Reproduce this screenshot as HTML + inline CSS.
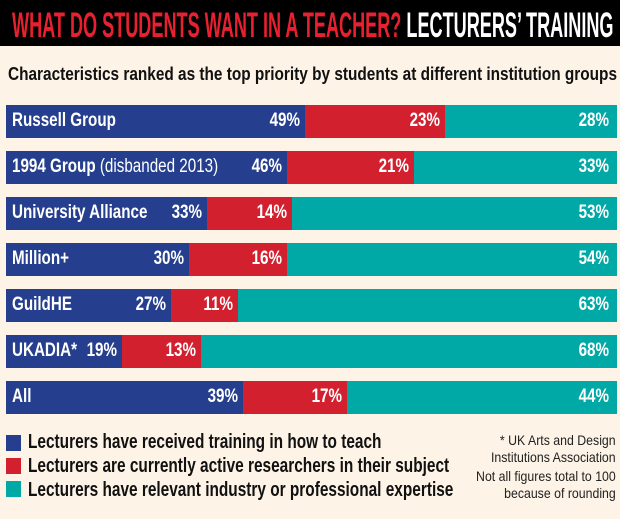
<!DOCTYPE html>
<html><head><style>
body{margin:0;width:620px;height:519px;background:#fdf3e6;position:relative;overflow:hidden;font-family:"Liberation Sans",sans-serif;}
.hdr{position:absolute;left:0;top:0;width:620px;height:46px;background:#000;overflow:hidden}
.t{position:absolute;left:12px;top:6px;font-weight:bold;font-size:35px;white-space:nowrap;transform-origin:0 0;transform:scaleX(0.517);}
.sub{position:absolute;left:8px;top:64px;font-weight:bold;font-size:18px;white-space:nowrap;color:#111;transform-origin:0 0;transform:scaleX(0.854)}
.bar{position:absolute;left:6px;width:611px;height:33px;}
.s{position:absolute;top:0;height:33px;}
.b{background:#253f8e}.r{background:#d3202f}.g{background:#00a9a6}
.lab{position:absolute;color:#fff;font-weight:bold;font-size:19px;top:5px;white-space:nowrap;transform:scaleX(0.8);transform-origin:100% 0}
.lab.l{transform-origin:0 0}
.n{font-weight:normal}
.lg{position:absolute;left:6px;width:15px;height:16px}
.lt{position:absolute;left:28px;font-weight:bold;font-size:20px;white-space:nowrap;color:#111;transform:scaleX(0.77);transform-origin:0 0}
.nt{position:absolute;right:4px;font-size:14px;text-align:right;color:#222;line-height:17px;white-space:nowrap;transform:scaleX(0.88);transform-origin:100% 0}
</style></head><body>
<div class="hdr"><div class="t"><span style="color:#e8202f">WHAT DO STUDENTS WANT IN A TEACHER?</span> <span style="color:#fff">LECTURERS’ TRAINING</span></div></div>
<div class="sub">Characteristics ranked as the top priority by students at different institution groups</div>

<div class="bar" style="top:105px"><div class="s b" style="left:0;width:299px"></div><div class="s r" style="left:299px;width:140px"></div><div class="s g" style="left:439px;width:172px"></div>
<div class="lab l" style="left:6px">Russell Group</div><div class="lab" style="right:317px">49%</div><div class="lab" style="right:177px">23%</div><div class="lab" style="right:8px">28%</div></div>

<div class="bar" style="top:151px"><div class="s b" style="left:0;width:281px"></div><div class="s r" style="left:281px;width:127px"></div><div class="s g" style="left:408px;width:203px"></div>
<div class="lab l" style="left:6px">1994 Group <span class="n">(disbanded 2013)</span></div><div class="lab" style="right:335px">46%</div><div class="lab" style="right:208px">21%</div><div class="lab" style="right:8px">33%</div></div>

<div class="bar" style="top:197px"><div class="s b" style="left:0;width:201px"></div><div class="s r" style="left:201px;width:85px"></div><div class="s g" style="left:286px;width:325px"></div>
<div class="lab l" style="left:6px">University Alliance</div><div class="lab" style="right:415px">33%</div><div class="lab" style="right:330px">14%</div><div class="lab" style="right:8px">53%</div></div>

<div class="bar" style="top:243px"><div class="s b" style="left:0;width:183px"></div><div class="s r" style="left:183px;width:98px"></div><div class="s g" style="left:281px;width:330px"></div>
<div class="lab l" style="left:6px">Million+</div><div class="lab" style="right:433px">30%</div><div class="lab" style="right:335px">16%</div><div class="lab" style="right:8px">54%</div></div>

<div class="bar" style="top:289px"><div class="s b" style="left:0;width:165px"></div><div class="s r" style="left:165px;width:67px"></div><div class="s g" style="left:232px;width:379px"></div>
<div class="lab l" style="left:6px">GuildHE</div><div class="lab" style="right:451px">27%</div><div class="lab" style="right:384px">11%</div><div class="lab" style="right:8px">63%</div></div>

<div class="bar" style="top:335px"><div class="s b" style="left:0;width:116px"></div><div class="s r" style="left:116px;width:79px"></div><div class="s g" style="left:195px;width:416px"></div>
<div class="lab l" style="left:6px">UKADIA*</div><div class="lab" style="right:500px">19%</div><div class="lab" style="right:421px">13%</div><div class="lab" style="right:8px">68%</div></div>

<div class="bar" style="top:381px"><div class="s b" style="left:0;width:237px"></div><div class="s r" style="left:237px;width:104px"></div><div class="s g" style="left:341px;width:270px"></div>
<div class="lab l" style="left:6px">All</div><div class="lab" style="right:379px">39%</div><div class="lab" style="right:275px">17%</div><div class="lab" style="right:8px">44%</div></div>

<div class="lg b" style="top:435px"></div><div class="lt" style="top:431px">Lecturers have received training in how to teach</div>
<div class="lg r" style="top:458px"></div><div class="lt" style="top:455px">Lecturers are currently active researchers in their subject</div>
<div class="lg g" style="top:481px"></div><div class="lt" style="top:479px">Lecturers have relevant industry or professional expertise</div>
<div class="nt" style="top:432px">* UK Arts and Design<br>Institutions Association</div>
<div class="nt" style="top:468px">Not all figures total to 100<br>because of rounding</div>
</body></html>
